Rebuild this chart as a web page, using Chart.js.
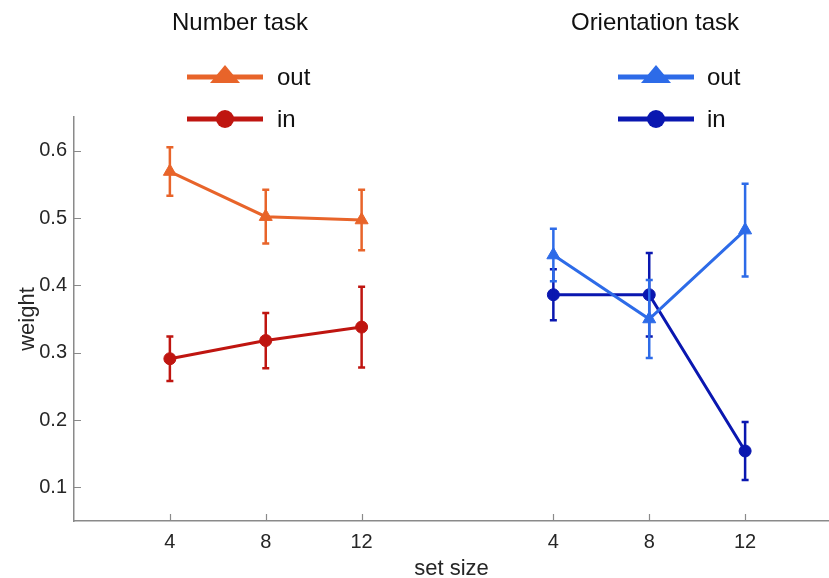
<!DOCTYPE html>
<html>
<head>
<meta charset="utf-8">
<script src="https://cdn.jsdelivr.net/npm/chart.js@4.4.0/dist/chart.umd.min.js"></script>
<style>
  html, body { margin: 0; padding: 0; background: #fff; }
  #wrap { width: 829px; height: 578px; }
</style>
</head>
<body>
<div id="wrap"><canvas id="chart"></canvas></div>
<script>
// set sizes, placed in two groups on one linear x axis
const numberX = [4, 8, 12];
const orientX = [20, 24, 28];
const tickLabels = ['4', '8', '12', '4', '8', '12'];
const yTicks = [0.1, 0.2, 0.3, 0.4, 0.5, 0.6];

// Number task
const numOut = [0.569, 0.502, 0.497];
const numOutErr = [0.036, 0.040, 0.045];
const numIn = [0.291, 0.318, 0.338];
const numInErr = [0.033, 0.041, 0.060];

// Orientation task
const oriOut = [0.445, 0.350, 0.482];
const oriOutErr = [0.039, 0.058, 0.069];
const oriIn = [0.386, 0.386, 0.154];
const oriInErr = [0.038, 0.062, 0.043];

const ORANGE = '#e8642a', DARKRED = '#bf1510', LIGHTBLUE = '#2d6be8', NAVY = '#0a17b0';
const FONT = '"Liberation Sans", Arial, sans-serif';

function pts(xs, ys) {
  return xs.map((x, i) => ({ x: x, y: ys[i] }));
}

function series(label, xs, ys, errs, color, style, radius) {
  return {
    label: label,
    data: pts(xs, ys),
    errors: errs,
    showLine: true,
    borderColor: color,
    backgroundColor: color,
    borderWidth: 3,
    pointStyle: style,
    pointRadius: radius,
    pointHoverRadius: radius,
    pointBorderWidth: 1
  };
}

// vertical error bars with small caps
const errorBars = {
  id: 'errorBars',
  afterDatasetDraw(chart, args) {
    const ds = chart.data.datasets[args.index];
    const xs = chart.scales.x, ys = chart.scales.y;
    const ctx = chart.ctx;
    ctx.save();
    ctx.strokeStyle = ds.borderColor;
    ctx.lineWidth = 2.5;
    ds.data.forEach((p, i) => {
      const e = ds.errors[i];
      const px = xs.getPixelForValue(p.x);
      const top = ys.getPixelForValue(p.y + e);
      const bot = ys.getPixelForValue(p.y - e);
      ctx.beginPath();
      ctx.moveTo(px, top); ctx.lineTo(px, bot);
      ctx.moveTo(px - 3.5, top); ctx.lineTo(px + 3.5, top);
      ctx.moveTo(px - 3.5, bot); ctx.lineTo(px + 3.5, bot);
      ctx.stroke();
    });
    ctx.restore();
  }
};

// matlab style tick marks pointing into the axes
const innerTicks = {
  id: 'innerTicks',
  afterDraw(chart) {
    const { ctx, chartArea: a } = chart;
    const xs = chart.scales.x, ys = chart.scales.y;
    ctx.save();
    ctx.strokeStyle = '#8a8a8a';
    ctx.lineWidth = 1.2;
    ctx.beginPath();
    xs.ticks.forEach(t => {
      const px = Math.round(xs.getPixelForValue(t.value)) + 0.5;
      ctx.moveTo(px, a.bottom); ctx.lineTo(px, a.bottom - 7);
    });
    ys.ticks.forEach(t => {
      const py = Math.round(ys.getPixelForValue(t.value)) + 0.5;
      ctx.moveTo(a.left, py); ctx.lineTo(a.left + 7, py);
    });
    ctx.stroke();
    ctx.restore();
  }
};

// group titles and the two hand-made legends
const groupLegends = {
  id: 'groupLegends',
  afterDraw(chart) {
    const ctx = chart.ctx;
    const groups = [
      { title: 'Number task', cx: 240, x0: 187, x1: 263, tx: 277, items: [[ORANGE, 'tri', 'out'], [DARKRED, 'circ', 'in']] },
      { title: 'Orientation task', cx: 655, x0: 618, x1: 694, tx: 707, items: [[LIGHTBLUE, 'tri', 'out'], [NAVY, 'circ', 'in']] }
    ];
    ctx.save();
    groups.forEach(g => {
      ctx.fillStyle = '#111';
      ctx.font = '24px ' + FONT;
      ctx.textAlign = 'center';
      ctx.textBaseline = 'middle';
      ctx.fillText(g.title, g.cx, 23);
      g.items.forEach((it, k) => {
        const y = 77 + k * 42;
        const mx = (g.x0 + g.x1) / 2;
        ctx.strokeStyle = it[0];
        ctx.fillStyle = it[0];
        ctx.lineWidth = 5;
        ctx.beginPath();
        ctx.moveTo(g.x0, y); ctx.lineTo(g.x1, y);
        ctx.stroke();
        ctx.beginPath();
        if (it[1] === 'tri') {
          ctx.moveTo(mx, y - 12);
          ctx.lineTo(mx + 15, y + 6);
          ctx.lineTo(mx - 15, y + 6);
          ctx.closePath();
        } else {
          ctx.arc(mx, y, 9, 0, Math.PI * 2);
        }
        ctx.fill();
        ctx.fillStyle = '#111';
        ctx.textAlign = 'left';
        ctx.fillText(it[2], g.tx, y + 1);
      });
    });
    ctx.restore();
  }
};

new Chart(document.getElementById('chart'), {
  type: 'scatter',
  data: {
    datasets: [
      series('Number out', numberX, numOut, numOutErr, ORANGE, 'triangle', 7.5),
      series('Number in', numberX, numIn, numInErr, DARKRED, 'circle', 6),
      series('Orientation out', orientX, oriOut, oriOutErr, LIGHTBLUE, 'triangle', 7.5),
      series('Orientation in', orientX, oriIn, oriInErr, NAVY, 'circle', 6)
    ]
  },
  options: {
    responsive: true,
    maintainAspectRatio: false,
    animation: false,
    layout: { autoPadding: false, padding: { top: 117, right: 0, left: 0, bottom: 0 } },
    plugins: {
      legend: { display: false },
      tooltip: { enabled: false }
    },
    scales: {
      x: {
        type: 'linear',
        min: 0,
        max: 31.5,
        afterBuildTicks: s => { s.ticks = numberX.concat(orientX).map(v => ({ value: v })); },
        afterFit: s => { s.height = 57; },
        grid: { display: false, drawTicks: false },
        border: { display: true, color: '#8a8a8a', width: 1.5 },
        ticks: {
          callback: (v, i) => tickLabels[i],
          color: '#262626',
          padding: 9,
          maxRotation: 0,
          autoSkip: false,
          font: { family: FONT, size: 20 }
        },
        title: {
          display: true,
          text: 'set size',
          color: '#262626',
          padding: 0,
          font: { family: FONT, size: 22, lineHeight: 0.8 }
        }
      },
      y: {
        min: 0.05,
        max: 0.65,
        afterBuildTicks: s => { s.ticks = yTicks.map(v => ({ value: v })); },
        afterFit: s => { s.width = 74; },
        grid: { display: false, drawTicks: false },
        border: { display: true, color: '#8a8a8a', width: 1.5 },
        ticks: {
          callback: v => v.toFixed(1),
          color: '#262626',
          padding: 7,
          font: { family: FONT, size: 20 }
        },
        title: {
          display: true,
          text: 'weight',
          color: '#262626',
          padding: { top: 17, bottom: 0 },
          font: { family: FONT, size: 22, lineHeight: 1 }
        }
      }
    }
  },
  plugins: [errorBars, innerTicks, groupLegends]
});
</script>
</body>
</html>
